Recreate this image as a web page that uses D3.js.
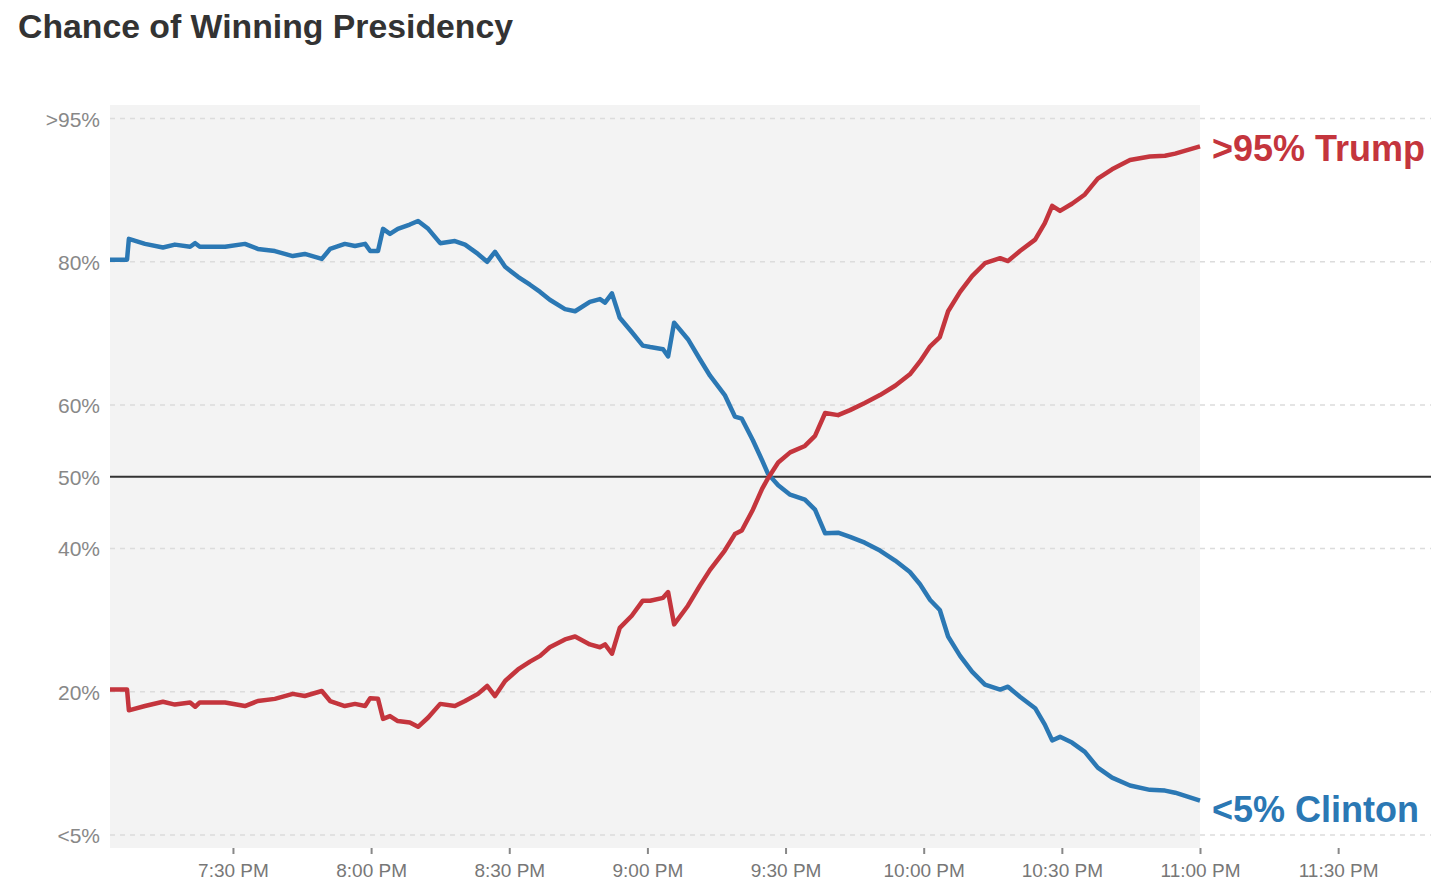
<!doctype html>
<html>
  <head>
    <meta charset="utf-8">
    <title>Chance of Winning Presidency</title>
    <script src="https://cdnjs.cloudflare.com/ajax/libs/d3/7.8.5/d3.min.js"></script>
    <style>
      body { margin: 0; background: #fff; }
      text { font-family: "Liberation Sans", Arial, sans-serif; }
    </style>
  </head>
  <body>
    <div id="chart"></div>
    <script>
      // minutes after 7:00 PM
      const minutes = [3.3, 7.0, 7.4, 10.9, 14.8, 17.4, 20.7, 21.8, 22.8, 28.3, 32.6, 35.4, 39.1, 43.0, 45.6, 49.3,
        51.1, 54.3, 56.5, 58.7, 59.8, 61.5, 62.6, 64.1, 65.8, 68.4, 70.2, 72.4, 75.0, 78.2, 80.4, 83.2,
        85.2, 86.9, 89.1, 91.9, 94.5, 96.7, 98.8, 102.1, 104.3, 107.5, 109.7, 110.8, 112.3, 114.0, 116.6,
        119.0, 120.6, 123.4, 124.5, 125.8, 128.8, 131.4, 133.6, 136.8, 139.0, 140.5, 142.9, 144.9, 146.2,
        148.4, 151.0, 154.2, 156.4, 158.6, 161.4, 164.0, 167.2, 170.5, 173.8, 177.0, 179.2, 181.4, 183.5,
        185.3, 187.9, 190.5, 193.3, 196.6, 198.3, 200.9, 204.2, 206.3, 207.9, 209.6, 212.2, 215.0, 217.8,
        220.9, 224.8, 229.1, 232.4, 234.6, 240.0];

      const clinton = [80.3, 80.3, 83.2, 82.5, 82.0, 82.4, 82.1, 82.6, 82.1, 82.1, 82.5, 81.8, 81.5, 80.8, 81.1, 80.4,
        81.8, 82.5, 82.2, 82.5, 81.5, 81.5, 84.6, 83.9, 84.6, 85.2, 85.7, 84.6, 82.6, 82.9, 82.4, 81.1,
        80.0, 81.4, 79.3, 77.9, 76.8, 75.8, 74.7, 73.4, 73.1, 74.4, 74.8, 74.3, 75.6, 72.2, 70.2,
        68.3, 68.1, 67.8, 66.8, 71.5, 69.2, 66.4, 64.1, 61.4, 58.4, 58.1, 55.1, 52.3, 50.4,
        48.8, 47.5, 46.8, 45.4, 42.1, 42.2, 41.6, 40.8, 39.7, 38.3, 36.7, 35.0, 32.8, 31.4,
        27.7, 25.0, 22.8, 21.0, 20.3, 20.7, 19.3, 17.7, 15.4, 13.2, 13.7, 12.9, 11.6, 9.4,
        8.0, 6.9, 6.3, 6.2, 5.9, 4.8];

      const trump = [20.3, 20.3, 17.4, 18.0, 18.6, 18.2, 18.5, 17.9, 18.5, 18.5, 18.0, 18.7, 19.0, 19.7, 19.4, 20.1,
        18.7, 18.0, 18.3, 18.0, 19.1, 19.0, 16.2, 16.6, 15.9, 15.7, 15.1, 16.4, 18.3, 18.0, 18.7, 19.7,
        20.8, 19.4, 21.5, 23.1, 24.2, 25.0, 26.2, 27.3, 27.7, 26.6, 26.2, 26.6, 25.3, 28.9, 30.6,
        32.7, 32.7, 33.1, 33.9, 29.4, 32.0, 34.8, 37.0, 39.7, 42.0, 42.5, 45.4, 48.3, 49.8,
        52.0, 53.4, 54.3, 55.7, 58.9, 58.6, 59.3, 60.3, 61.4, 62.7, 64.3, 66.1, 68.2, 69.5,
        73.1, 75.8, 78.0, 79.8, 80.5, 80.1, 81.5, 83.1, 85.4, 87.8, 87.1, 88.1, 89.4, 91.6,
        92.9, 94.2, 94.7, 94.8, 95.1, 96.1];

      const yTicks = [0, 20, 40, 50, 60, 80, 100];
      const yTickLabels = ['<5%', '20%', '40%', '50%', '60%', '80%', '>95%'];
      const xTickTimes = ['19:30', '20:00', '20:30', '21:00', '21:30', '22:00', '22:30', '23:00', '23:30'];

      const width = 1431, height = 886;
      const base = new Date(2016, 10, 8, 19, 0);
      const toDate = m => new Date(base.getTime() + m * 60000);
      const parse = d3.timeParse('%H:%M');
      const tickDates = xTickTimes.map(s => {
        const p = parse(s);
        return new Date(2016, 10, 8, p.getHours(), p.getMinutes());
      });

      const x = d3.scaleTime()
        .domain([toDate(3.3), toDate(240)])
        .range([110, 1200]);
      const y = d3.scaleLinear().domain([0, 100]).range([835, 118.5]);

      const svg = d3.select('#chart').append('svg')
        .attr('width', width)
        .attr('height', height);

      svg.append('text')
        .attr('x', 18).attr('y', 38)
        .attr('font-size', 34).attr('font-weight', 'bold')
        .attr('fill', '#333')
        .attr('textLength', 495)
        .attr('lengthAdjust', 'spacingAndGlyphs')
        .text('Chance of Winning Presidency');

      // plot background
      svg.append('rect')
        .attr('x', x.range()[0]).attr('y', 105)
        .attr('width', x.range()[1] - x.range()[0]).attr('height', 743)
        .attr('fill', '#f3f3f3');

      // grid lines
      svg.append('g').selectAll('line')
        .data(yTicks.filter(d => d !== 50))
        .join('line')
        .attr('x1', x.range()[0]).attr('x2', width)
        .attr('y1', d => y(d)).attr('y2', d => y(d))
        .attr('stroke', '#dcdcdc')
        .attr('stroke-width', 1.5)
        .attr('stroke-dasharray', '5,5');

      svg.append('line')
        .attr('x1', x.range()[0]).attr('x2', width)
        .attr('y1', y(50)).attr('y2', y(50))
        .attr('stroke', '#333').attr('stroke-width', 2);

      // y labels
      svg.append('g').selectAll('text')
        .data(yTicks)
        .join('text')
        .attr('x', 100).attr('y', d => y(d) + 8)
        .attr('text-anchor', 'end')
        .attr('font-size', 21)
        .attr('fill', '#888')
        .text((d, i) => yTickLabels[i]);

      // x axis
      const xAxis = svg.append('g')
        .attr('transform', 'translate(0,848)')
        .call(d3.axisBottom(x)
          .tickValues(tickDates)
          .tickSize(6)
          .tickPadding(10)
          .tickFormat(d3.timeFormat('%-I:%M %p')));
      xAxis.select('.domain').remove();
      xAxis.selectAll('line').attr('stroke', '#888').attr('stroke-width', 2);
      xAxis.selectAll('text')
        .attr('font-size', 19)
        .attr('fill', '#777')
        .style('font-family', '"Liberation Sans", Arial, sans-serif');

      const line = d3.line()
        .x((d, i) => x(toDate(minutes[i])))
        .y(d => y(d));

      const blue = '#2b78b4', red = '#c4353d';

      svg.append('path')
        .attr('d', line(clinton))
        .attr('fill', 'none').attr('stroke', blue)
        .attr('stroke-width', 4.5).attr('stroke-linejoin', 'round');

      svg.append('path')
        .attr('d', line(trump))
        .attr('fill', 'none').attr('stroke', red)
        .attr('stroke-width', 4.5).attr('stroke-linejoin', 'round');

      // end labels
      const last = minutes.length - 1;
      svg.append('text')
        .attr('x', x(toDate(minutes[last])) + 12)
        .attr('y', y(trump[last]) + 15)
        .attr('font-size', 36).attr('font-weight', 'bold')
        .attr('fill', red)
        .text('>95% Trump');

      svg.append('text')
        .attr('x', x(toDate(minutes[last])) + 12)
        .attr('y', y(clinton[last]) + 21)
        .attr('font-size', 36).attr('font-weight', 'bold')
        .attr('fill', blue)
        .text('<5% Clinton');
    </script>
  </body>
</html>
